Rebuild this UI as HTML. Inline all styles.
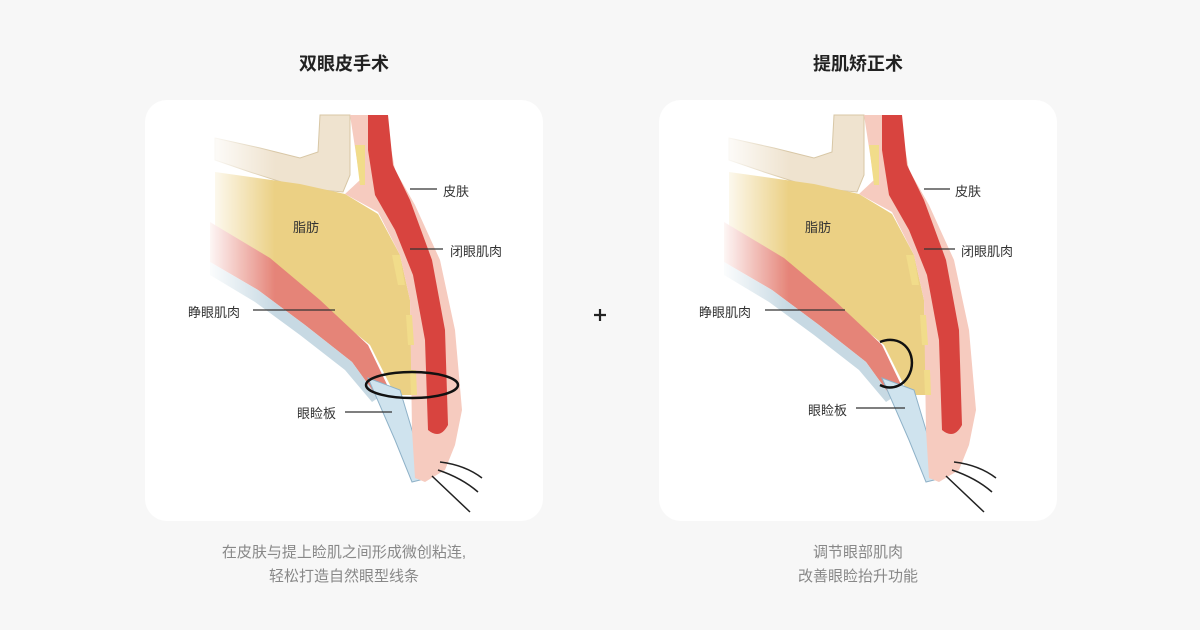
<!DOCTYPE html>
<html><head><meta charset="utf-8"><style>
body{margin:0;width:1200px;height:630px;background:#f7f7f7;position:relative;overflow:hidden;font-family:"Liberation Sans","Noto Sans CJK SC",sans-serif;}
.card{position:absolute;top:100px;width:398px;height:421px;background:#fff;border-radius:22px;}
.t{position:absolute;font-size:18px;font-weight:bold;color:#222;transform:translateX(-50%);top:50px;white-space:nowrap;}
.cap{position:absolute;font-size:15px;color:#888;text-align:center;width:400px;line-height:24px;top:541px;}
.lb{position:absolute;font-size:13px;color:#333;white-space:nowrap;}
svg{position:absolute;left:0;top:0}
</style></head><body>
<div class="t" style="left:344px">双眼皮手术</div>
<div class="t" style="left:858px">提肌矫正术</div>
<div class="card" style="left:145px"></div>
<div class="card" style="left:659px"></div>
<svg width="1200" height="630">
<defs>
<linearGradient id="fade" gradientUnits="userSpaceOnUse" x1="205" y1="0" x2="275" y2="0">
<stop offset="0" stop-color="#000"/><stop offset="1" stop-color="#fff"/></linearGradient>
<mask id="m" maskUnits="userSpaceOnUse" x="0" y="0" width="1200" height="630">
<rect x="0" y="0" width="1200" height="630" fill="url(#fade)"/>
</mask>
<g id="eye">
<g mask="url(#m)">
<path d="M320,115 L350,115 L350,175 L343,192 L300,188 L250,172 L215,160 L215,138 L260,148 L300,158 L318,152 Z" fill="#efe3cf" stroke="#d8c7a6" stroke-width="1"/>
<path d="M215,172 L300,184 L345,194 L378,214 L400,255 L410,300 L412,395 L395,395 L370,345 L320,305 L270,262 L215,228 Z" fill="#ebd084"/>
<path d="M210,222 L270,258 L320,300 L368,345 L392,395 L378,398 L352,362 L305,325 L258,290 L210,262 Z" fill="#e58478"/>
<path d="M210,262 L258,290 L305,325 L352,362 L378,398 L372,402 L345,370 L300,335 L255,302 L210,275 Z" fill="#c7d9e3"/>
</g>
<path d="M368,378 L400,390 L412,430 L428,478 L412,482 L395,440 Z" fill="#cfe3ee" stroke="#8fb2c8"/>
<path d="M350,115 L385,115 L395,170 L415,205 L440,260 L455,330 L462,410 L455,445 L445,470 L425,482 L415,478 L412,430 L410,300 L400,255 L378,212 L345,194 L360,180 Z" fill="#f6cbbf"/>
<path d="M368,115 L388,115 L393,165 L410,200 L432,260 L445,330 L448,425 Q440,440 428,430 L425,340 L413,275 L395,230 L375,195 L368,150 Z" fill="#d8443f"/>
<path d="M355,145 L365,145 L365,185 L360,185 Z M392,255 L400,255 L405,285 L398,285 Z M406,315 L412,315 L414,345 L408,345 Z M410,370 L416,370 L417,395 L411,395 Z" fill="#f1dc8a"/>
<path d="M440,462 Q465,465 482,478 M438,470 Q462,478 478,492 M432,476 Q452,495 470,512" fill="none" stroke="#222" stroke-width="1.5"/>
</g>
</defs>
<use href="#eye"/>
<use href="#eye" x="514"/>
<ellipse cx="412" cy="385" rx="46" ry="13" fill="none" stroke="#111" stroke-width="2.5"/>
<path d="M880,342 C900,334 916,350 911,370 C906,386 892,391 880,385" fill="none" stroke="#111" stroke-width="2.5"/>
<g stroke="#333" stroke-width="1.2">
<line x1="410" y1="189" x2="437" y2="189"/><line x1="410" y1="249" x2="443" y2="249"/>
<line x1="253" y1="310" x2="335" y2="310"/><line x1="345" y1="412" x2="392" y2="412"/>
<line x1="924" y1="189" x2="950" y2="189"/><line x1="924" y1="249" x2="955" y2="249"/>
<line x1="765" y1="310" x2="845" y2="310"/><line x1="856" y1="408" x2="905" y2="408"/>
</g>
<path d="M594,315 H606 M600,309 V321" stroke="#222" stroke-width="2.2"/>
</svg>
<div class="lb" style="left:443px;top:181px">皮肤</div>
<div class="lb" style="left:450px;top:241px">闭眼肌肉</div>
<div class="lb" style="left:188px;top:302px">睁眼肌肉</div>
<div class="lb" style="left:297px;top:403px">眼睑板</div>
<div class="lb" style="left:293px;top:217px">脂肪</div>
<div class="lb" style="left:955px;top:181px">皮肤</div>
<div class="lb" style="left:961px;top:241px">闭眼肌肉</div>
<div class="lb" style="left:699px;top:302px">睁眼肌肉</div>
<div class="lb" style="left:808px;top:400px">眼睑板</div>
<div class="lb" style="left:805px;top:217px">脂肪</div>
<div class="cap" style="left:144px">在皮肤与提上睑肌之间形成微创粘连,<br>轻松打造自然眼型线条</div>
<div class="cap" style="left:658px">调节眼部肌肉<br>改善眼睑抬升功能</div>
</body></html>
